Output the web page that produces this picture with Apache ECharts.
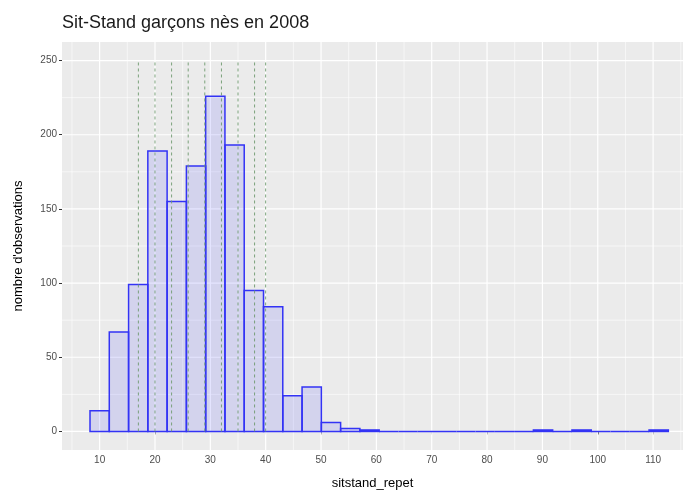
<!DOCTYPE html>
<html>
<head>
<meta charset="utf-8">
<script src="https://cdn.jsdelivr.net/npm/echarts@6/dist/echarts.min.js"></script>
<style>
html, body { margin: 0; padding: 0; background: #fff; }
#chart { width: 683px; height: 495px; }
</style>
</head>
<body>
<div id="chart"></div>
<script>
// histogramme : 30 classes
var binStart = 8.26;
var binWidth = 3.483;
var counts = [14, 67, 99, 189, 155, 179, 226, 193, 95, 84, 24, 30, 6, 2, 1,
              0, 0, 0, 0, 0, 0, 0, 0, 1, 0, 1, 0, 0, 0, 1];
// lignes pointillées (quantiles)
var quantiles = [17, 20, 23, 26, 29, 32, 35, 38, 40];
var quantileTop = 250;
// graduations
var xTicks = [10, 20, 30, 40, 50, 60, 70, 80, 90, 100, 110];
var xMinor = [5, 15, 25, 35, 45, 55, 65, 75, 85, 95, 105, 115];
var yTicks = [0, 50, 100, 150, 200, 250];
var yMinor = [25, 75, 125, 175, 225];

(function () {
    var myChart = echarts.init(document.getElementById('chart'));
    var font = 'Liberation Sans, Arial, sans-serif';

    var bins = counts.map(function (c, i) {
        return [binStart + i * binWidth, binStart + (i + 1) * binWidth, c];
    });

    function vLine(width) {
        return function (params, api) {
            var x = api.coord([api.value(0), 0])[0];
            var cs = params.coordSys;
            return {
                type: 'line',
                shape: { x1: x, y1: cs.y, x2: x, y2: cs.y + cs.height },
                style: { stroke: '#ffffff', lineWidth: width }
            };
        };
    }
    function hLine(width) {
        return function (params, api) {
            var y = api.coord([10, api.value(0)])[1];
            var cs = params.coordSys;
            return {
                type: 'line',
                shape: { x1: cs.x, y1: y, x2: cs.x + cs.width, y2: y },
                style: { stroke: '#ffffff', lineWidth: width }
            };
        };
    }
    function gridSeries(data, fn) {
        return {
            type: 'custom', silent: true, z: 1, animation: false,
            renderItem: fn, data: data.map(function (v) { return [v]; }),
            encode: { x: 0 }
        };
    }

    var option = {
        animation: false,
        backgroundColor: '#ffffff',
        textStyle: { fontFamily: font },
        title: {
            text: 'Sit-Stand garçons nès en 2008',
            left: 62, top: 14, padding: 0,
            textStyle: { fontSize: 18, fontWeight: 'normal', color: '#1a1a1a', fontFamily: font }
        },
        grid: {
            left: 62, right: 0, top: 42, bottom: 36,
            show: true, backgroundColor: '#ebebeb', borderWidth: 0
        },
        xAxis: {
            type: 'value', min: 3.2, max: 115.4,
            name: 'sitstand_repet', nameLocation: 'middle', nameGap: 27,
            nameTextStyle: { fontSize: 13, color: '#000', fontFamily: font },
            axisLine: { show: false },
            splitLine: { show: false },
            axisTick: { show: true, length: 3, customValues: xTicks, lineStyle: { color: '#333' } },
            axisLabel: { customValues: xTicks, fontSize: 10, color: '#4d4d4d', margin: 5, fontFamily: font }
        },
        yAxis: {
            type: 'value', min: -12.5, max: 262.5,
            name: "nombre d'observations", nameLocation: 'middle', nameGap: 37, nameRotate: 90,
            nameTextStyle: { fontSize: 13, color: '#000', fontFamily: font },
            axisLine: { show: false },
            splitLine: { show: false },
            axisTick: { show: true, length: 3, customValues: yTicks, lineStyle: { color: '#333' } },
            axisLabel: { customValues: yTicks, fontSize: 10, color: '#4d4d4d', margin: 5, fontFamily: font }
        },
        series: [
            gridSeries(xMinor, vLine(0.6)),
            gridSeries(xTicks, vLine(1.2)),
            gridSeries(yMinor, hLine(0.6)),
            gridSeries(yTicks, hLine(1.2)),
            {
                type: 'custom', z: 3,
                renderItem: function (params, api) {
                    var p0 = api.coord([api.value(0), api.value(2)]);
                    var p1 = api.coord([api.value(1), 0]);
                    return {
                        type: 'rect',
                        shape: { x: p0[0], y: p0[1], width: p1[0] - p0[0], height: p1[1] - p0[1] },
                        style: { fill: 'rgba(0,0,255,0.1)', stroke: '#3333f5', lineWidth: 1.5 }
                    };
                },
                encode: { x: [0, 1], y: 2 },
                data: bins
            },
            {
                type: 'custom', z: 4, silent: true,
                renderItem: function (params, api) {
                    var a = api.coord([api.value(0), 0]);
                    var b = api.coord([api.value(0), quantileTop]);
                    return {
                        type: 'line',
                        shape: { x1: a[0], y1: a[1], x2: b[0], y2: b[1] },
                        style: { stroke: '#6f9a6f', lineWidth: 0.9, lineDash: [3, 3] }
                    };
                },
                encode: { x: 0 },
                data: quantiles.map(function (v) { return [v]; })
            }
        ]
    };
    myChart.setOption(option);
})();
</script>
</body>
</html>
